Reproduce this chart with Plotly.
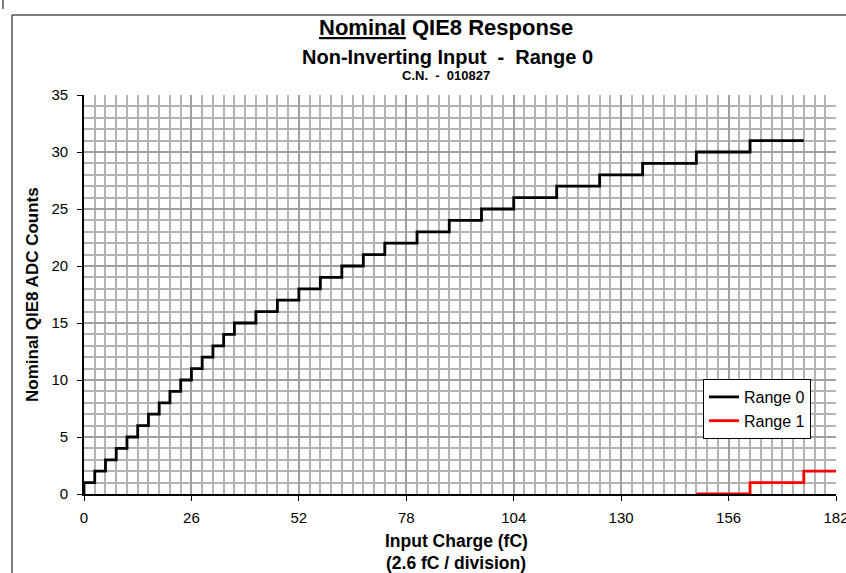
import plotly.graph_objects as go

# ---- data ----
range0_charge = [0, 0, 2.6, 5.2, 7.8, 10.4, 13.0, 15.6, 18.2, 20.8, 23.4, 26.0, 28.6,
                 31.2, 33.8, 36.4, 41.6, 46.8, 52.0, 57.2, 62.4, 67.6, 72.8, 80.6,
                 88.4, 96.2, 104.0, 114.4, 124.8, 135.2, 148.2, 161.2, 174.2]
range0_counts = [0, 1, 2, 3, 4, 5, 6, 7, 8, 9, 10, 11, 12, 13, 14, 15, 16, 17, 18,
                 19, 20, 21, 22, 23, 24, 25, 26, 27, 28, 29, 30, 31, 31]
range1_charge = [148.2, 161.2, 174.2, 182.0]
range1_counts = [0, 1, 2, 2]
x_ticks = [0, 26, 52, 78, 104, 130, 156, 182]
y_ticks = [0, 5, 10, 15, 20, 25, 30, 35]

FONT = "Liberation Sans, Arial, sans-serif"
W, H = 846, 573
L, R, T, B = 84, 10, 95, 79
PW, PH = W - L - R, H - T - B


def xp(px):
    return (px - L) / PW


def yp(py):
    return (T + PH - py) / PH


fig = go.Figure()
fig.add_trace(go.Scatter(x=range0_charge, y=range0_counts, mode="lines",
                         line=dict(color="black", width=2.8, shape="hv"),
                         name="Range 0"))
fig.add_trace(go.Scatter(x=range1_charge, y=range1_counts, mode="lines",
                         line=dict(color="#ff0000", width=2.8, shape="hv"),
                         name="Range 1"))

grid = "#b3b3b3"
major = "#a0a0a0"
fig.update_xaxes(range=[0, 182], tickvals=x_ticks, ticktext=[str(v) for v in x_ticks],
                 showgrid=True, gridcolor=major, gridwidth=1.6,
                 minor=dict(dtick=2.6, tick0=0, showgrid=True, gridcolor=grid, gridwidth=1.6),
                 showline=True, linecolor="black", linewidth=1.6,
                 ticks="outside", ticklen=5, tickcolor="black",
                 ticklabelstandoff=4, automargin=False, ticklabeloverflow="allow",
                 tickfont=dict(family=FONT, size=15, color="black"),
                 zeroline=False, mirror=False)
fig.update_yaxes(range=[0, 35], tickvals=y_ticks, ticktext=[str(v) for v in y_ticks],
                 showgrid=True, gridcolor=major, gridwidth=1.6,
                 minor=dict(dtick=1, tick0=0, showgrid=True, gridcolor=grid, gridwidth=1.6),
                 showline=True, linecolor="black", linewidth=1.6,
                 ticks="outside", ticklen=5, tickcolor="black",
                 ticklabelstandoff=6, automargin=False,
                 tickfont=dict(family=FONT, size=15, color="black"),
                 zeroline=False)

annots = [
    dict(text="<b><u>Nominal</u> QIE8 Response</b>", x=xp(446), y=yp(27), size=22),
    dict(text="<b>Non-Inverting Input  -  Range 0</b>", x=xp(447), y=yp(57), size=20),
    dict(text="<b>C.N.  -  010827</b>", x=xp(446), y=yp(76), size=13),
    dict(text="<b>Input Charge (fC)</b>", x=xp(456), y=yp(541), size=17.5),
    dict(text="<b>(2.6 fC / division)</b>", x=xp(456), y=yp(563), size=17.5),
]
for a in annots:
    fig.add_annotation(text=a["text"], x=a["x"], y=a["y"], xref="paper", yref="paper",
                       showarrow=False, xanchor="center", yanchor="middle",
                       font=dict(family=FONT, size=a["size"], color="black"))
fig.add_annotation(text="<b>Nominal QIE8 ADC Counts</b>", x=xp(32), y=yp(295),
                   xref="paper", yref="paper", showarrow=False, textangle=-90,
                   xanchor="center", yanchor="middle",
                   font=dict(family=FONT, size=17, color="black"))

# outer chart frame
fig.add_shape(type="line", xref="paper", yref="paper", x0=xp(12), x1=xp(900),
              y0=yp(15), y1=yp(15), line=dict(color="black", width=1))
fig.add_shape(type="line", xref="paper", yref="paper", x0=xp(12), x1=xp(12),
              y0=yp(15), y1=yp(600), line=dict(color="black", width=1))
fig.add_shape(type="line", xref="paper", yref="paper", x0=xp(3), x1=xp(3),
              y0=yp(0), y1=yp(9), line=dict(color="black", width=1))

fig.update_layout(
    width=W, height=H, margin=dict(l=L, r=R, t=T, b=B),
    paper_bgcolor="white", plot_bgcolor="white",
    font=dict(family=FONT, color="black"),
    legend=dict(x=xp(703), y=yp(379), xanchor="left", yanchor="top",
                bgcolor="white", bordercolor="black", borderwidth=1,
                font=dict(family=FONT, size=16, color="black"),
                itemwidth=30, tracegroupgap=0),
)
fig.write_html("out.html", post_script="document.body.style.margin='0';",
               config={"displayModeBar": False})
